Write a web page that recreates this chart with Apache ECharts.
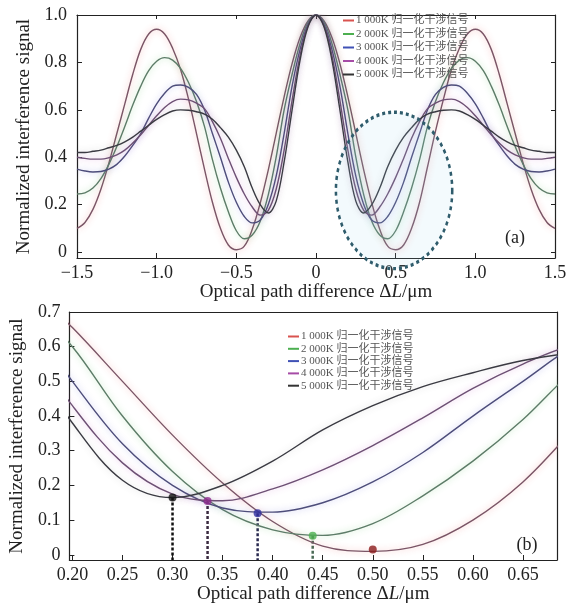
<!DOCTYPE html>
<html><head><meta charset="utf-8">
<script src="https://cdn.jsdelivr.net/npm/echarts@6/dist/echarts.min.js"></script>
<style>html,body{margin:0;padding:0;background:#fff}#c{width:576px;height:613px}</style>
</head><body><div id="c"></div>
<script>
// ---- data ----
const xs = [-1.5,-1.45,-1.4,-1.35,-1.3,-1.25,-1.2,-1.15,-1.1,-1.05,-1.0,-0.95,-0.9,-0.85,-0.8,-0.75,-0.7,-0.65,-0.6,-0.55,-0.5,-0.45,-0.4,-0.35,-0.3,-0.25,-0.2,-0.15,-0.1,-0.05,0,
  0.05,0.1,0.15,0.2,0.25,0.3,0.35,0.4,0.45,0.5,0.55,0.6,0.65,0.7,0.75,0.8,0.85,0.9,0.95,1.0,1.05,1.1,1.15,1.2,1.25,1.3,1.35,1.4,1.45,1.5];
const s1000 = [0.1,0.125,0.18,0.265,0.375,0.5,0.625,0.75,0.855,0.92,0.94,0.92,0.86,0.77,0.645,0.5,0.35,0.21,0.1,0.03,0.01,0.025,0.096,0.207,0.345,0.5,0.655,0.795,0.905,0.975,1,
  0.975,0.905,0.795,0.655,0.5,0.345,0.207,0.096,0.025,0.01,0.03,0.1,0.21,0.36,0.51,0.645,0.77,0.86,0.92,0.94,0.92,0.855,0.75,0.625,0.5,0.375,0.265,0.18,0.125,0.1];
const s2000 = [0.245,0.25,0.27,0.31,0.37,0.445,0.53,0.62,0.7,0.765,0.805,0.82,0.81,0.775,0.715,0.635,0.53,0.39,0.27,0.17,0.09,0.056,0.072,0.13,0.24,0.4,0.6,0.75,0.88,0.97,1,
  0.97,0.88,0.75,0.6,0.4,0.24,0.13,0.072,0.056,0.09,0.17,0.27,0.39,0.53,0.635,0.715,0.775,0.81,0.82,0.805,0.765,0.7,0.62,0.53,0.445,0.37,0.31,0.27,0.25,0.245];
const s3000 = [0.35,0.342,0.338,0.34,0.35,0.37,0.405,0.45,0.5,0.565,0.625,0.67,0.7,0.705,0.695,0.665,0.6,0.5,0.4,0.295,0.21,0.15,0.123,0.135,0.2,0.32,0.5,0.7,0.855,0.96,1,
  0.96,0.855,0.7,0.5,0.32,0.2,0.135,0.123,0.15,0.21,0.295,0.4,0.5,0.6,0.665,0.695,0.705,0.7,0.67,0.625,0.565,0.5,0.45,0.405,0.37,0.35,0.34,0.338,0.342,0.35];
const s4000 = [0.4,0.395,0.392,0.392,0.398,0.41,0.43,0.46,0.495,0.535,0.575,0.61,0.635,0.645,0.642,0.628,0.605,0.55,0.48,0.395,0.315,0.245,0.19,0.156,0.175,0.265,0.43,0.64,0.83,0.955,1,
  0.955,0.83,0.64,0.43,0.265,0.175,0.156,0.19,0.245,0.315,0.395,0.48,0.55,0.605,0.628,0.642,0.645,0.635,0.61,0.575,0.535,0.495,0.46,0.43,0.41,0.398,0.392,0.392,0.395,0.4];
const s5000 = [0.42,0.42,0.425,0.43,0.44,0.45,0.465,0.485,0.51,0.535,0.56,0.58,0.595,0.6,0.598,0.592,0.582,0.56,0.525,0.485,0.43,0.36,0.27,0.2,0.165,0.215,0.38,0.6,0.81,0.95,1,
  0.95,0.81,0.6,0.38,0.215,0.165,0.2,0.27,0.36,0.43,0.485,0.525,0.56,0.582,0.592,0.598,0.6,0.595,0.58,0.56,0.535,0.51,0.485,0.465,0.45,0.44,0.43,0.425,0.42,0.42];
const seriesNames = ['1 000K 归一化干涉信号','2 000K 归一化干涉信号','3 000K 归一化干涉信号','4 000K 归一化干涉信号','5 000K 归一化干涉信号'];
// minima markers (bottom panel)
const minX = [0.50, 0.44, 0.385, 0.335, 0.30];
const minY = [0.015, 0.055, 0.12, 0.155, 0.165];
const topXTicks = [-1.5,-1.0,-0.5,0,0.5,1.0,1.5];
const topYTicks = [0,0.2,0.4,0.6,0.8,1.0];
const botXTicks = [0.20,0.25,0.30,0.35,0.40,0.45,0.50,0.55,0.60,0.65];
const botYTicks = [0,0.1,0.2,0.3,0.4,0.5,0.6,0.7];

// ---- styles ----
const allVals = [s1000,s2000,s3000,s4000,s5000];
const lineColors = ['#7a5566','#5d7c68','#4d4d7a','#6d5074','#3a3a42'];
const legendColors = ['#d9534f','#4caf50','#3f51b5','#a64ca6','#333333'];
const glowColors = ['rgba(235,90,90,0.45)','rgba(90,190,90,0.45)','rgba(90,90,210,0.4)','rgba(190,90,190,0.45)','rgba(90,90,90,0.25)'];
const dotColors = ['#8b1a1a','#4caf50','#3030a0','#8e2a8e','#111111'];
const dashColors = ['#222','#4a6a55','#2a2a50','#3a2a40','#111'];
const serif = '"Liberation Serif","Times New Roman",serif';
const legFont = '"Liberation Serif","Noto Sans CJK SC",serif';

const chart = echarts.init(document.getElementById('c'));

function fmt2(v){return v.toFixed(2);}
function fmtY(v){return v===0?'0':v.toFixed(1);}
function fmtTX(v){ if(v===0) return '0'; return (v<0?'\u2212':'')+Math.abs(v).toFixed(1); }

const nameRich = {
  n:{fontFamily:serif,fontSize:19,color:'#222'},
  i:{fontFamily:serif,fontSize:19,fontStyle:'italic',color:'#222'}
};
const axisLineS = {show:true,onZero:false,lineStyle:{color:'#222',width:1.2}};

const xAxes = [
  {gridIndex:0,type:'value',min:-1.5,max:1.5,interval:0.5,position:'bottom',
   axisLine:axisLineS,axisTick:{inside:true,length:5,customValues:topXTicks,lineStyle:{color:'#222'}},
   axisLabel:{customValues:topXTicks,formatter:fmtTX,fontFamily:serif,fontSize:18,color:'#222',margin:6},
   splitLine:{show:false},
   name:'{n|Optical path difference Δ}{i|L}{n|/μm}',nameLocation:'middle',nameGap:22,nameTextStyle:{rich:nameRich}},
  {gridIndex:0,type:'value',min:-1.5,max:1.5,interval:0.5,position:'top',
   axisLine:axisLineS,axisTick:{inside:true,length:4,customValues:topXTicks,lineStyle:{color:'#222'}},
   axisLabel:{show:false},splitLine:{show:false}},
  {gridIndex:1,type:'value',min:0.197,max:0.684,position:'bottom',
   axisLine:axisLineS,axisTick:{inside:true,length:5,customValues:botXTicks,lineStyle:{color:'#222'}},
   axisLabel:{customValues:botXTicks,formatter:fmt2,fontFamily:serif,fontSize:18,color:'#222',margin:6},
   splitLine:{show:false},
   name:'{n|Optical path difference Δ}{i|L}{n|/μm}',nameLocation:'middle',nameGap:21,nameTextStyle:{rich:nameRich}},
  {gridIndex:1,type:'value',min:0.197,max:0.684,position:'top',
   axisLine:axisLineS,axisTick:{show:false},axisLabel:{show:false},splitLine:{show:false}}
];
const yAxes = [
  {gridIndex:0,type:'value',min:-0.025,max:1.0,position:'left',
   axisLine:axisLineS,axisTick:{inside:true,length:5,customValues:topYTicks,lineStyle:{color:'#222'}},
   axisLabel:{customValues:topYTicks,formatter:fmtY,fontFamily:serif,fontSize:18,color:'#222',margin:10},
   splitLine:{show:false},
   name:'Normalized interference signal',nameLocation:'middle',nameGap:43,
   nameTextStyle:{fontFamily:serif,fontSize:19,color:'#222'}},
  {gridIndex:0,type:'value',min:-0.025,max:1.0,position:'right',
   axisLine:axisLineS,axisTick:{inside:true,length:4,customValues:topYTicks,lineStyle:{color:'#222'}},
   axisLabel:{show:false},splitLine:{show:false}},
  {gridIndex:1,type:'value',min:-0.015,max:0.7,position:'left',
   axisLine:axisLineS,axisTick:{inside:true,length:5,customValues:botYTicks,lineStyle:{color:'#222'}},
   axisLabel:{customValues:botYTicks,formatter:fmtY,fontFamily:serif,fontSize:18,color:'#222',margin:9},
   splitLine:{show:false},
   name:'Normalized interference signal',nameLocation:'middle',nameGap:33,
   nameTextStyle:{fontFamily:serif,fontSize:19,color:'#222'}},
  {gridIndex:1,type:'value',min:-0.015,max:0.7,position:'right',
   axisLine:axisLineS,axisTick:{show:false},axisLabel:{show:false},splitLine:{show:false}}
];

const series = [];
for (let k=0;k<5;k++){
  const pts = xs.map((x,i)=>[x, allVals[k][i]]);
  const base = {type:'line',name:seriesNames[k],smooth:0.35,showSymbol:false,animation:false,
    lineStyle:{color:lineColors[k],width:1.4,shadowColor:glowColors[k],shadowBlur:6},
    itemStyle:{color:lineColors[k]},z:3};
  series.push(Object.assign({},base,{xAxisIndex:0,yAxisIndex:0,data:pts}));
  series.push(Object.assign({},base,{xAxisIndex:2,yAxisIndex:2,data:pts.filter(p=>p[0]>=0.15&&p[0]<=0.75)}));
}
// dashed drop lines (not for the 1000K point)
for (let k=1;k<5;k++){
  series.push({type:'line',xAxisIndex:2,yAxisIndex:2,showSymbol:false,animation:false,silent:true,z:2,
    data:[[minX[k],minY[k]],[minX[k],-0.015]],
    lineStyle:{color:dashColors[k],width:2.5,type:[3,2]}});
}
series.push({type:'scatter',xAxisIndex:2,yAxisIndex:2,symbolSize:8,animation:false,z:5,
  data:minX.map((x,i)=>({value:[x,minY[i]],itemStyle:{color:dotColors[i]}}))});

function legendData(){
  return seriesNames.map((n,k)=>({name:n,itemStyle:{color:legendColors[k]},lineStyle:{color:legendColors[k]}}));
}
const legendBase = {orient:'vertical',icon:'rect',itemWidth:11,itemHeight:2,
  textStyle:{fontFamily:legFont,fontSize:11,color:'#555',padding:[0,0,0,-3]},selectedMode:false,padding:0};

chart.setOption({
  backgroundColor:'#fff',
  animation:false,
  grid:[{left:77,top:15,width:478,height:243},{left:68,top:312,width:489,height:248}],
  xAxis:xAxes,yAxis:yAxes,
  legend:[Object.assign({left:343,top:15,itemGap:2.5,data:legendData()},legendBase),
          Object.assign({left:288,top:331,itemGap:1.3,data:legendData()},legendBase)],
  series:series
});

// annotation: dashed ellipse around the minima region, labels (a)/(b)
const c = chart.convertToPixel({xAxisIndex:0,yAxisIndex:0},[0.49,0.26]);
const e = chart.convertToPixel({xAxisIndex:0,yAxisIndex:0},[0.855,-0.07]);
const rx = e[0]-c[0], ry = e[1]-c[1];
chart.setOption({graphic:[
  {type:'circle',x:c[0],y:c[1],scaleX:rx/ry,scaleY:1,shape:{cx:0,cy:0,r:ry},z:10,silent:true,
   style:{fill:'rgba(160,210,235,0.12)',stroke:'#2f5c6c',lineWidth:3.4,lineDash:[4,4],strokeNoScale:true}},
  {type:'text',x:515,y:238,style:{text:'(a)',font:'18px '+serif,fill:'#222',align:'center',verticalAlign:'middle'},z:10},
  {type:'text',x:527,y:545,style:{text:'(b)',font:'18px '+serif,fill:'#222',align:'center',verticalAlign:'middle'},z:10}
]});
</script></body></html>
